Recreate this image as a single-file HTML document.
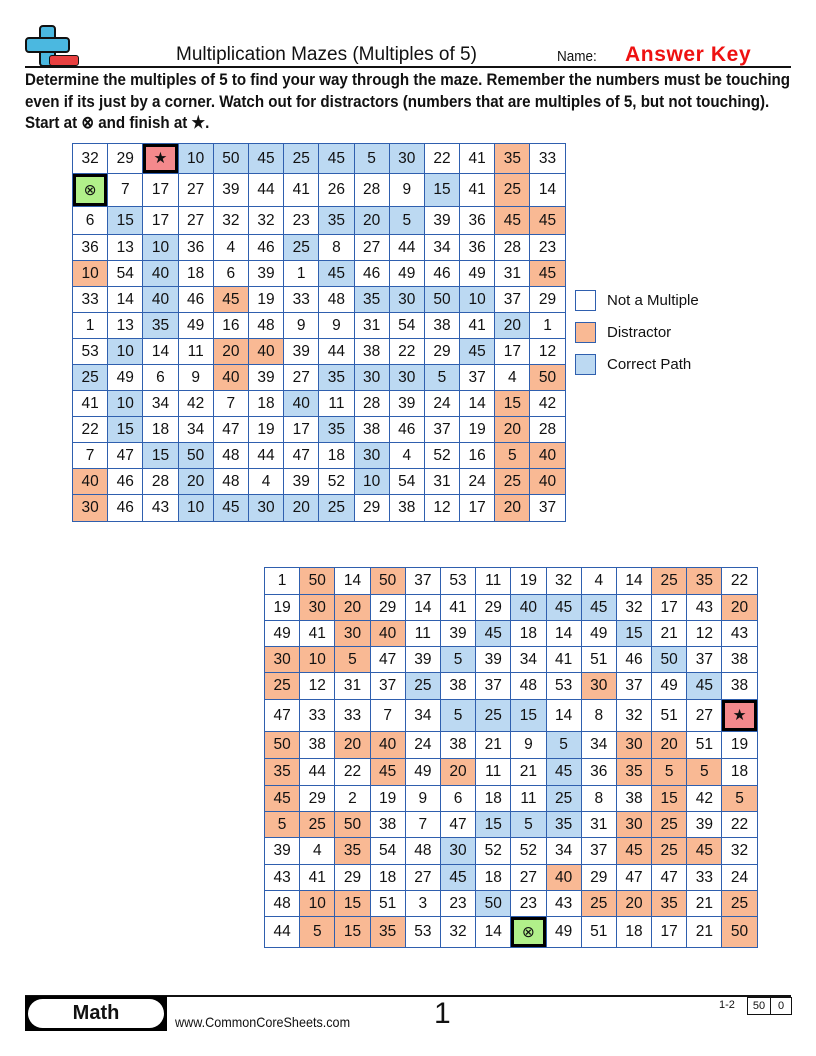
<!DOCTYPE html>
<html><head><meta charset="utf-8"><style>
body{margin:0;background:#fff;}
#p{position:relative;width:816px;height:1056px;overflow:hidden;font-family:"Liberation Sans",sans-serif;color:#111;}
.a{position:absolute;white-space:nowrap;}
table{position:absolute;border-collapse:collapse;table-layout:fixed;}
td{border:1.5px solid #2f5fae;text-align:center;font-size:15.5px;padding:0;overflow:hidden;}
td.b{background:#bcd9f2;}
td.o{background:#f9b994;}
td.s{background:#b1f08a;box-shadow:inset 0 0 0 3px #000;}
td.f{background:#f4898c;box-shadow:inset 0 0 0 3px #000;}
.ins{font-weight:bold;font-size:17px;transform:scaleX(0.89);transform-origin:left top;left:25px;}
.lg{position:absolute;width:19px;height:19px;border:1.5px solid #2f5fae;left:575px;}
.lt{position:absolute;left:607px;font-size:15px;}
</style></head><body><div id="p">
<!-- icon -->
<div class="a" style="left:39px;top:25px;width:13px;height:38px;background:#4bb8e0;border:2px solid #111;border-radius:4px;"></div>
<div class="a" style="left:25px;top:37px;width:41px;height:12px;background:#4bb8e0;border:2px solid #111;border-radius:4px;"></div>
<div class="a" style="left:41px;top:39px;width:11px;height:10px;background:#4bb8e0;"></div>
<div class="a" style="left:49px;top:55px;width:28px;height:9px;background:#e84040;border:1.5px solid #111;border-radius:3px;"></div>
<div class="a" style="left:176px;top:44px;font-size:19px;">Multiplication Mazes (Multiples of 5)</div>
<div class="a" style="left:557px;top:48px;font-size:15px;transform:scaleX(0.9);transform-origin:left top;">Name:</div>
<div class="a" style="left:625px;top:43px;font-size:21px;font-weight:bold;color:#ee1111;letter-spacing:0.6px;">Answer Key</div>
<div class="a" style="left:25px;top:66px;width:766px;height:2px;background:#111;"></div>
<div class="a ins" style="top:70px;">Determine the multiples of 5 to find your way through the maze. Remember the numbers must be touching</div>
<div class="a ins" style="top:92px;">even if its just by a corner. Watch out for distractors (numbers that are multiples of 5, but not touching).</div>
<div class="a ins" style="top:113px;">Start at ⊗ and finish at ★.</div>

<table style="left:72px;top:143px;width:493px;">
<colgroup><col span="14" style="width:35.2px"></colgroup>
<tr style="height:30px"><td>32</td><td>29</td><td class="f">★</td><td class="b">10</td><td class="b">50</td><td class="b">45</td><td class="b">25</td><td class="b">45</td><td class="b">5</td><td class="b">30</td><td>22</td><td>41</td><td class="o">35</td><td>33</td></tr>
<tr style="height:33px"><td class="s">⊗</td><td>7</td><td>17</td><td>27</td><td>39</td><td>44</td><td>41</td><td>26</td><td>28</td><td>9</td><td class="b">15</td><td>41</td><td class="o">25</td><td>14</td></tr>
<tr style="height:28px"><td>6</td><td class="b">15</td><td>17</td><td>27</td><td>32</td><td>32</td><td>23</td><td class="b">35</td><td class="b">20</td><td class="b">5</td><td>39</td><td>36</td><td class="o">45</td><td class="o">45</td></tr>
<tr style="height:26px"><td>36</td><td>13</td><td class="b">10</td><td>36</td><td>4</td><td>46</td><td class="b">25</td><td>8</td><td>27</td><td>44</td><td>34</td><td>36</td><td>28</td><td>23</td></tr>
<tr style="height:26px"><td class="o">10</td><td>54</td><td class="b">40</td><td>18</td><td>6</td><td>39</td><td>1</td><td class="b">45</td><td>46</td><td>49</td><td>46</td><td>49</td><td>31</td><td class="o">45</td></tr>
<tr style="height:26px"><td>33</td><td>14</td><td class="b">40</td><td>46</td><td class="o">45</td><td>19</td><td>33</td><td>48</td><td class="b">35</td><td class="b">30</td><td class="b">50</td><td class="b">10</td><td>37</td><td>29</td></tr>
<tr style="height:26px"><td>1</td><td>13</td><td class="b">35</td><td>49</td><td>16</td><td>48</td><td>9</td><td>9</td><td>31</td><td>54</td><td>38</td><td>41</td><td class="b">20</td><td>1</td></tr>
<tr style="height:26px"><td>53</td><td class="b">10</td><td>14</td><td>11</td><td class="o">20</td><td class="o">40</td><td>39</td><td>44</td><td>38</td><td>22</td><td>29</td><td class="b">45</td><td>17</td><td>12</td></tr>
<tr style="height:26px"><td class="b">25</td><td>49</td><td>6</td><td>9</td><td class="o">40</td><td>39</td><td>27</td><td class="b">35</td><td class="b">30</td><td class="b">30</td><td class="b">5</td><td>37</td><td>4</td><td class="o">50</td></tr>
<tr style="height:26px"><td>41</td><td class="b">10</td><td>34</td><td>42</td><td>7</td><td>18</td><td class="b">40</td><td>11</td><td>28</td><td>39</td><td>24</td><td>14</td><td class="o">15</td><td>42</td></tr>
<tr style="height:26px"><td>22</td><td class="b">15</td><td>18</td><td>34</td><td>47</td><td>19</td><td>17</td><td class="b">35</td><td>38</td><td>46</td><td>37</td><td>19</td><td class="o">20</td><td>28</td></tr>
<tr style="height:26px"><td>7</td><td>47</td><td class="b">15</td><td class="b">50</td><td>48</td><td>44</td><td>47</td><td>18</td><td class="b">30</td><td>4</td><td>52</td><td>16</td><td class="o">5</td><td class="o">40</td></tr>
<tr style="height:26px"><td class="o">40</td><td>46</td><td>28</td><td class="b">20</td><td>48</td><td>4</td><td>39</td><td>52</td><td class="b">10</td><td>54</td><td>31</td><td>24</td><td class="o">25</td><td class="o">40</td></tr>
<tr style="height:27px"><td class="o">30</td><td>46</td><td>43</td><td class="b">10</td><td class="b">45</td><td class="b">30</td><td class="b">20</td><td class="b">25</td><td>29</td><td>38</td><td>12</td><td>17</td><td class="o">20</td><td>37</td></tr>
</table>

<div class="lg" style="top:290px;background:#fff;"></div><div class="lt" style="top:292px;">Not a Multiple</div>
<div class="lg" style="top:322px;background:#f9b994;"></div><div class="lt" style="top:324px;">Distractor</div>
<div class="lg" style="top:354px;background:#bcd9f2;"></div><div class="lt" style="top:356px;">Correct Path</div>

<table style="left:264px;top:567px;width:493px;">
<colgroup><col span="14" style="width:35.2px"></colgroup>
<tr style="height:27px"><td>1</td><td class="o">50</td><td>14</td><td class="o">50</td><td>37</td><td>53</td><td>11</td><td>19</td><td>32</td><td>4</td><td>14</td><td class="o">25</td><td class="o">35</td><td>22</td></tr>
<tr style="height:26px"><td>19</td><td class="o">30</td><td class="o">20</td><td>29</td><td>14</td><td>41</td><td>29</td><td class="b">40</td><td class="b">45</td><td class="b">45</td><td>32</td><td>17</td><td>43</td><td class="o">20</td></tr>
<tr style="height:26px"><td>49</td><td>41</td><td class="o">30</td><td class="o">40</td><td>11</td><td>39</td><td class="b">45</td><td>18</td><td>14</td><td>49</td><td class="b">15</td><td>21</td><td>12</td><td>43</td></tr>
<tr style="height:26px"><td class="o">30</td><td class="o">10</td><td class="o">5</td><td>47</td><td>39</td><td class="b">5</td><td>39</td><td>34</td><td>41</td><td>51</td><td>46</td><td class="b">50</td><td>37</td><td>38</td></tr>
<tr style="height:27px"><td class="o">25</td><td>12</td><td>31</td><td>37</td><td class="b">25</td><td>38</td><td>37</td><td>48</td><td>53</td><td class="o">30</td><td>37</td><td>49</td><td class="b">45</td><td>38</td></tr>
<tr style="height:32px"><td>47</td><td>33</td><td>33</td><td>7</td><td>34</td><td class="b">5</td><td class="b">25</td><td class="b">15</td><td>14</td><td>8</td><td>32</td><td>51</td><td>27</td><td class="f">★</td></tr>
<tr style="height:27px"><td class="o">50</td><td>38</td><td class="o">20</td><td class="o">40</td><td>24</td><td>38</td><td>21</td><td>9</td><td class="b">5</td><td>34</td><td class="o">30</td><td class="o">20</td><td>51</td><td>19</td></tr>
<tr style="height:27px"><td class="o">35</td><td>44</td><td>22</td><td class="o">45</td><td>49</td><td class="o">20</td><td>11</td><td>21</td><td class="b">45</td><td>36</td><td class="o">35</td><td class="o">5</td><td class="o">5</td><td>18</td></tr>
<tr style="height:26px"><td class="o">45</td><td>29</td><td>2</td><td>19</td><td>9</td><td>6</td><td>18</td><td>11</td><td class="b">25</td><td>8</td><td>38</td><td class="o">15</td><td>42</td><td class="o">5</td></tr>
<tr style="height:26px"><td class="o">5</td><td class="o">25</td><td class="o">50</td><td>38</td><td>7</td><td>47</td><td class="b">15</td><td class="b">5</td><td class="b">35</td><td>31</td><td class="o">30</td><td class="o">25</td><td>39</td><td>22</td></tr>
<tr style="height:27px"><td>39</td><td>4</td><td class="o">35</td><td>54</td><td>48</td><td class="b">30</td><td>52</td><td>52</td><td>34</td><td>37</td><td class="o">45</td><td class="o">25</td><td class="o">45</td><td>32</td></tr>
<tr style="height:26px"><td>43</td><td>41</td><td>29</td><td>18</td><td>27</td><td class="b">45</td><td>18</td><td>27</td><td class="o">40</td><td>29</td><td>47</td><td>47</td><td>33</td><td>24</td></tr>
<tr style="height:26px"><td>48</td><td class="o">10</td><td class="o">15</td><td>51</td><td>3</td><td>23</td><td class="b">50</td><td>23</td><td>43</td><td class="o">25</td><td class="o">20</td><td class="o">35</td><td>21</td><td class="o">25</td></tr>
<tr style="height:31px"><td>44</td><td class="o">5</td><td class="o">15</td><td class="o">35</td><td>53</td><td>32</td><td>14</td><td class="s">⊗</td><td>49</td><td>51</td><td>18</td><td>17</td><td>21</td><td class="o">50</td></tr>
</table>

<!-- footer -->
<div class="a" style="left:25px;top:995px;width:766px;height:1.5px;background:#111;"></div>
<div class="a" style="left:25px;top:996px;width:142px;height:35px;background:#000;"></div>
<div class="a" style="left:28px;top:999px;width:136px;height:29px;background:#fff;border-radius:15px;"></div>
<div class="a" style="left:28px;top:1002px;width:136px;text-align:center;font-size:20px;font-weight:bold;">Math</div>
<div class="a" style="left:175px;top:1014px;font-size:14px;transform:scaleX(0.9);transform-origin:left top;">www.CommonCoreSheets.com</div>
<div class="a" style="left:434px;top:997px;font-size:30px;">1</div>
<div class="a" style="left:719px;top:999px;font-size:11px;">1-2</div>
<div class="a" style="left:747px;top:997px;width:22px;height:16px;border:1px solid #111;font-size:11px;text-align:center;line-height:16px;">50</div>
<div class="a" style="left:770px;top:997px;width:20px;height:16px;border:1px solid #111;font-size:11px;text-align:center;line-height:16px;">0</div>
</div></body></html>
